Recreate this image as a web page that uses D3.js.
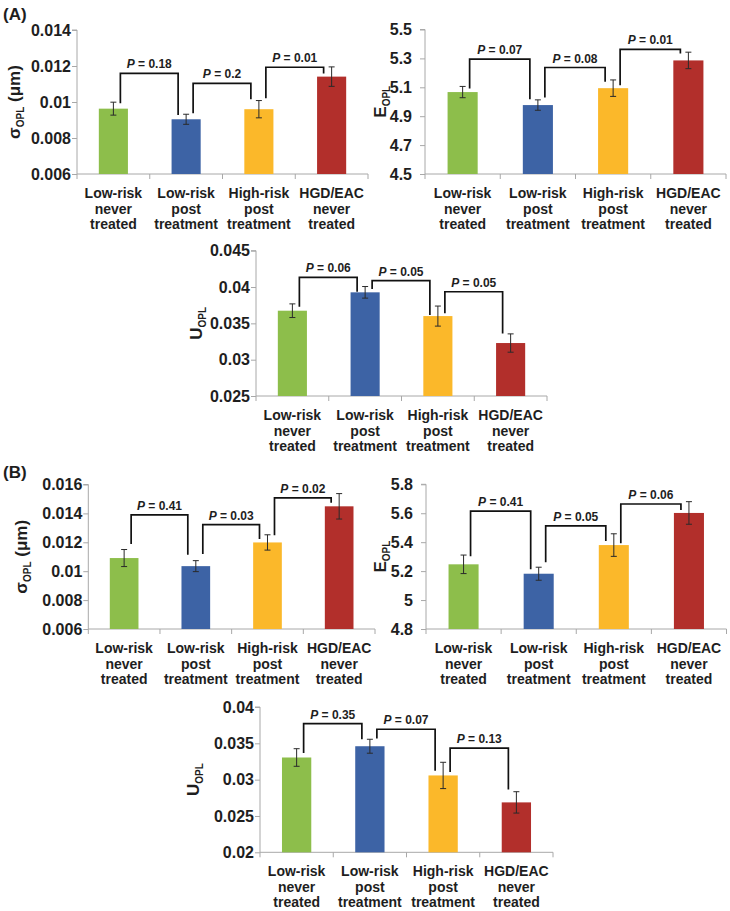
<!DOCTYPE html>
<html><head><meta charset="utf-8">
<script src="https://cdn.jsdelivr.net/npm/d3@7"></script>
<style>
html,body{margin:0;padding:0;background:#fff;}
svg{display:block;font-family:"Liberation Sans",Arial,sans-serif;}
</style></head>
<body>
<svg id="chart" width="730" height="911"></svg>
<script>
// ---------- data ----------
const categories = [
  ["Low-risk","never","treated"],
  ["Low-risk","post","treatment"],
  ["High-risk","post","treatment"],
  ["HGD/EAC","never","treated"]
];
const colors = ["#8dbe4b","#3d63a5","#fbb82a","#b22f2b"];

const sigmaA = [0.00963, 0.00904, 0.00960, 0.01141];
const sigmaAErr = [0.00036, 0.00028, 0.00048, 0.00054];
const sigmaAP = ["0.18","0.2","0.01"];
const sigmaABr = [[0.01159,0.00993,0.00928],[0.01104,0.00937,0.01015],[0.01193,0.01021,0.01159]];
const sigmaATicks = [0.006,0.008,0.01,0.012,0.014];

const eA = [5.067, 4.977, 5.094, 5.286];
const eAErr = [0.039, 0.036, 0.057, 0.057];
const eAP = ["0.07","0.08","0.01"];
const eABr = [[5.295,5.092,5.018],[5.237,5.030,5.138],[5.362,5.115,5.334]];
const eATicks = [4.5,4.7,4.9,5.1,5.3,5.5];

const uA = [0.03674, 0.03927, 0.03600, 0.03229];
const uAErr = [0.00094, 0.00080, 0.00138, 0.00126];
const uAP = ["0.06","0.05","0.05"];
const uABr = [[0.04134,0.03729,0.03935],[0.04087,0.03972,0.03614],[0.03935,0.03638,0.03362]];
const uATicks = [0.025,0.03,0.035,0.04,0.045];

const sigmaB = [0.01091, 0.01035, 0.01199, 0.01449];
const sigmaBErr = [0.00059, 0.00038, 0.00053, 0.00088];
const sigmaBP = ["0.41","0.03","0.02"];
const sigmaBBr = [[0.0139,0.01188,0.01114],[0.01322,0.01119,0.01223],[0.01508,0.01248,0.01473]];
const sigmaBTicks = [0.006,0.008,0.01,0.012,0.014,0.016];

const eB = [5.247, 5.182, 5.380, 5.602];
const eBErr = [0.064, 0.045, 0.078, 0.078];
const eBP = ["0.41","0.05","0.06"];
const eBBr = [[5.615,5.302,5.213],[5.512,5.261,5.408],[5.664,5.392,5.622]];
const eBTicks = [4.8,5,5.2,5.4,5.6,5.8];

const uB = [0.03305, 0.03460, 0.03058, 0.02687];
const uBErr = [0.00121, 0.00096, 0.00181, 0.00147];
const uBP = ["0.35","0.07","0.13"];
const uBBr = [[0.03772,0.03368,0.03556],[0.03694,0.03566,0.03121],[0.03433,0.03107,0.02865]];
const uBTicks = [0.02,0.025,0.03,0.035,0.04];

// ---------- layout ----------
const panels = [
  {vals:sigmaA, err:sigmaAErr, p:sigmaAP, br:sigmaABr, ticks:sigmaATicks, label:"sigma",
   x0:77, x1:368, y0:30, y1:174, pad:1, lx:20},
  {vals:eA, err:eAErr, p:eAP, br:eABr, ticks:eATicks, label:"E",
   x0:425, x1:726, y0:29.5, y1:174, pad:8, lx:386},
  {vals:uA, err:uAErr, p:uAP, br:uABr, ticks:uATicks, label:"U",
   x0:256, x1:547, y0:250.7, y1:396, pad:1, lx:201.5},
  {vals:sigmaB, err:sigmaBErr, p:sigmaBP, br:sigmaBBr, ticks:sigmaBTicks, label:"sigma",
   x0:88.3, x1:375, y0:484.5, y1:629, pad:1, lx:27},
  {vals:eB, err:eBErr, p:eBP, br:eBBr, ticks:eBTicks, label:"E",
   x0:426, x1:726.5, y0:484.3, y1:629, pad:8, lx:386},
  {vals:uB, err:uBErr, p:uBP, br:uBBr, ticks:uBTicks, label:"U",
   x0:260, x1:553, y0:707, y1:852.3, pad:1, lx:199}
];

const svg = d3.select("#chart");
const axisColor = "#a8a8a8";
const textColor = "#1e1e1e";

svg.append("text").attr("x",3).attr("y",19.5).attr("font-size",17).attr("font-weight","bold")
  .attr("fill",textColor).text("(A)");
svg.append("text").attr("x",3).attr("y",478).attr("font-size",17).attr("font-weight","bold")
  .attr("fill",textColor).text("(B)");

panels.forEach(pn => {
  const g = svg.append("g");
  const idx = d3.range(categories.length);
  const x = d3.scaleBand().domain(idx).range([pn.x0, pn.x1]).paddingInner(0.6).paddingOuter(0.3);
  const step = x.step();
  const y = d3.scaleLinear().domain([pn.ticks[0], pn.ticks[pn.ticks.length-1]]).range([pn.y1, pn.y0]);
  const cx = i => x(i) + x.bandwidth()/2;

  // y axis
  const ya = d3.axisLeft(y).tickValues(pn.ticks).tickSize(5).tickPadding(pn.pad)
    .tickFormat(d => String(+d.toFixed(4)));
  const yg = g.append("g").attr("transform",`translate(${pn.x0},0)`).call(ya);
  yg.select(".domain").attr("stroke",axisColor).attr("d",`M-5,${pn.y0}H0V${pn.y1}`);
  yg.selectAll(".tick line").attr("stroke",axisColor);
  yg.selectAll(".tick text").attr("font-size",16).attr("font-weight","bold").attr("fill",textColor)
    .attr("font-family",'"Liberation Sans",Arial,sans-serif');

  // x axis (boundaries)
  g.append("line").attr("x1",pn.x0).attr("x2",pn.x1).attr("y1",pn.y1).attr("y2",pn.y1).attr("stroke",axisColor);
  d3.range(categories.length+1).forEach(k => {
    const xx = pn.x0 + k*step;
    g.append("line").attr("x1",xx).attr("x2",xx).attr("y1",pn.y1).attr("y2",pn.y1+5).attr("stroke",axisColor);
  });

  // category labels
  categories.forEach((lines,i) => {
    const t = g.append("text").attr("text-anchor","middle").attr("font-size",14).attr("font-weight","bold")
      .attr("fill",textColor);
    lines.forEach((ln,k) => {
      t.append("tspan").attr("x",cx(i)).attr("y",pn.y1 + 24 + k*15.5).text(ln);
    });
  });

  // bars
  g.selectAll("rect.bar").data(pn.vals).join("rect").attr("class","bar")
    .attr("x",(d,i)=>x(i)).attr("width",x.bandwidth())
    .attr("y",d=>y(d)).attr("height",d=>pn.y1 - y(d))
    .attr("fill",(d,i)=>colors[i]);

  // error bars
  pn.vals.forEach((v,i) => {
    const e = pn.err[i], c = cx(i);
    const eg = g.append("g").attr("stroke","#2a2a2a").attr("stroke-width",1);
    eg.append("line").attr("x1",c).attr("x2",c).attr("y1",y(v+e)).attr("y2",y(v-e));
    eg.append("line").attr("x1",c-3).attr("x2",c+3).attr("y1",y(v+e)).attr("y2",y(v+e));
    eg.append("line").attr("x1",c-3).attr("x2",c+3).attr("y1",y(v-e)).attr("y2",y(v-e));
  });

  // significance brackets
  pn.br.forEach((b,k) => {
    const xl = cx(k) + 7, xr = cx(k+1) - 8;
    g.append("path")
      .attr("d",`M${xl},${y(b[1])}V${y(b[0])}H${xr}V${y(b[2])}`)
      .attr("fill","none").attr("stroke","#111").attr("stroke-width",1.7);
    const t = g.append("text").attr("x",(xl+xr)/2).attr("y",y(b[0]) - 5)
      .attr("text-anchor","middle").attr("font-size",12).attr("font-weight","bold").attr("fill",textColor);
    t.append("tspan").attr("font-style","italic").text("P");
    t.append("tspan").text(" = " + pn.p[k]);
  });

  // y-axis title
  const ym = (pn.y0 + pn.y1)/2;
  const yt = g.append("text").attr("transform",`translate(${pn.lx},${ym}) rotate(-90)`)
    .attr("text-anchor","middle").attr("font-size",17).attr("font-weight","bold").attr("fill",textColor);
  if (pn.label === "sigma") {
    yt.append("tspan").text("σ");
    yt.append("tspan").attr("font-size",10).attr("dy",4).text("OPL");
    yt.append("tspan").attr("dy",-4).text(" (μm)");
  } else {
    yt.append("tspan").text(pn.label);
    yt.append("tspan").attr("font-size",10).attr("dy",4).text("OPL");
  }
});
</script>
</body></html>
